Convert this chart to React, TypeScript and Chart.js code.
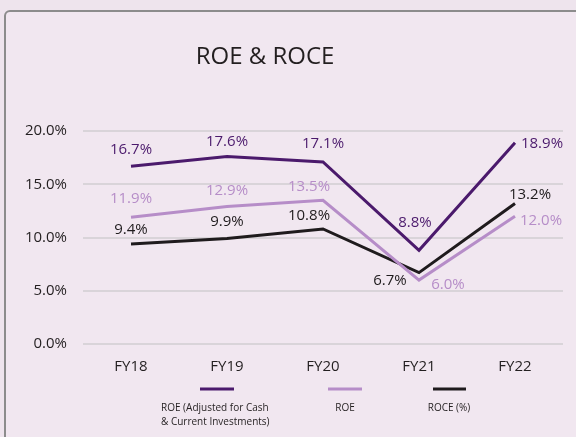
import React, { useEffect, useRef } from "react";
import { Chart, registerables } from "chart.js";

Chart.register(...registerables);

const categories = ["FY18", "FY19", "FY20", "FY21", "FY22"];
const roeAdjusted = [16.7, 17.6, 17.1, 8.8, 18.9];
const roe = [11.9, 12.9, 13.5, 6.0, 12.0];
const roce = [9.4, 9.9, 10.8, 6.7, 13.2];
const yMin = 0;
const yMax = 20;
const yStep = 5;
const titleText = "ROE & ROCE";
const legendLabels = [
  ["ROE (Adjusted for Cash", "& Current Investments)"],
  ["ROE"],
  ["ROCE (%)"],
];

const DARK = "#4b1a6c";
const LIGHT = "#b68dc8";
const BLACK = "#1f1b1d";
const FONT = "'Open Sans', sans-serif";

// label offsets relative to the point (style, not data)
const labelOffsets = [
  [[0, -16], [0, -15], [0, -18], [-4, -28], [27, 1]],
  [[0, -19], [0, -16], [-14, -13], [29, 5], [26, 5]],
  [[0, -14], [0, -17], [-14, -13], [-29, 8], [15, -9]],
];

const labelPlugin = {
  id: "pointLabels",
  afterDatasetsDraw(chart: any) {
    const ctx = chart.ctx;
    ctx.save();
    ctx.font = `15px ${FONT}`;
    ctx.textAlign = "center";
    ctx.textBaseline = "middle";
    chart.data.datasets.forEach((ds: any, di: number) => {
      const meta = chart.getDatasetMeta(di);
      ctx.fillStyle = ds.borderColor;
      meta.data.forEach((pt: any, i: number) => {
        const off = labelOffsets[di][i];
        ctx.fillText(ds.data[i].toFixed(1) + "%", pt.x + off[0], pt.y + off[1]);
      });
    });
    ctx.restore();
  },
};

const decorPlugin = {
  id: "decor",
  afterDraw(chart: any) {
    const ctx = chart.ctx;
    ctx.save();
    // title
    ctx.font = `24px ${FONT}`;
    ctx.fillStyle = "#231f20";
    ctx.textAlign = "center";
    ctx.textBaseline = "middle";
    ctx.fillText(titleText, 265, 57);
    // legend
    const items = [
      { color: DARK, x1: 200, x2: 234, textX: 161, align: "left" },
      { color: LIGHT, x1: 328, x2: 362, textX: 345, align: "center" },
      { color: BLACK, x1: 433, x2: 466, textX: 449, align: "center" },
    ];
    items.forEach((it, k) => {
      ctx.strokeStyle = it.color;
      ctx.lineWidth = 3;
      ctx.beginPath();
      ctx.moveTo(it.x1, 389);
      ctx.lineTo(it.x2, 389);
      ctx.stroke();
      ctx.font = `10px ${FONT}`;
      ctx.fillStyle = "#231f20";
      ctx.textAlign = it.align;
      legendLabels[k].forEach((line, j) => {
        ctx.fillText(line, it.textX, 408 + j * 14);
      });
    });
    ctx.restore();
  },
};

export default function App() {
  const ref = useRef<HTMLCanvasElement | null>(null);
  useEffect(() => {
    if (!ref.current) return;
    const chart = new Chart(ref.current, {
      type: "line",
      data: {
        labels: categories,
        datasets: [
          { label: "ROE (Adjusted for Cash & Current Investments)", data: roeAdjusted, borderColor: DARK, backgroundColor: DARK },
          { label: "ROE", data: roe, borderColor: LIGHT, backgroundColor: LIGHT },
          { label: "ROCE (%)", data: roce, borderColor: BLACK, backgroundColor: BLACK },
        ].map((d) => ({ ...d, borderWidth: 3, pointRadius: 0, tension: 0, fill: false })),
      },
      options: {
        animation: false,
        responsive: false,
        devicePixelRatio: 1,
        layout: { padding: { top: 131, right: 13, left: 0, bottom: 0 } },
        plugins: { legend: { display: false }, tooltip: { enabled: false }, title: { display: false } },
        scales: {
          x: {
            offset: true,
            grid: { display: false, drawTicks: false },
            border: { display: false },
            ticks: { color: "#231f20", font: { family: FONT, size: 15 }, padding: 14 },
            afterFit: (s: any) => { s.height = 93; },
          },
          y: {
            min: yMin,
            max: yMax,
            grid: { color: "#d9d4d9", lineWidth: 2, drawTicks: false },
            border: { display: false },
            ticks: {
              stepSize: yStep,
              color: "#231f20",
              font: { family: FONT, size: 15 },
              padding: 16,
              callback: (v: any) => Number(v).toFixed(1) + "%",
            },
            afterFit: (s: any) => { s.width = 83; },
          },
        },
      },
      plugins: [labelPlugin, decorPlugin],
    });
    return () => chart.destroy();
  }, []);

  return (
    <div style={{ position: "fixed", left: 0, top: 0, width: 576, height: 437, overflow: "hidden", background: "#eee4ed" }}>
      <div style={{ position: "absolute", left: 4, top: 10, width: 600, height: 500, border: "2px solid #8c8c8c", borderRadius: 6, background: "#f1e7f0", boxSizing: "border-box" }} />
      <canvas ref={ref} width={576} height={437} style={{ position: "absolute", left: 0, top: 0, width: 576, height: 437 }} />
    </div>
  );
}
